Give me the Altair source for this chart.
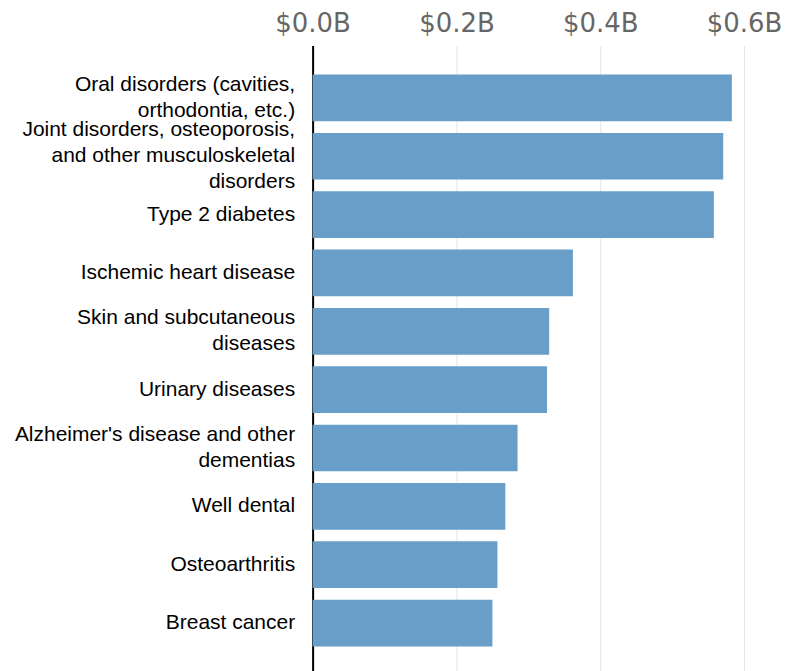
import altair as alt
import pandas as pd

categories = [
    "Oral disorders (cavities,|orthodontia, etc.)",
    "Joint disorders, osteoporosis,|and other musculoskeletal|disorders",
    "Type 2 diabetes",
    "Ischemic heart disease",
    "Skin and subcutaneous|diseases",
    "Urinary diseases",
    "Alzheimer's disease and other|dementias",
    "Well dental",
    "Osteoarthritis",
    "Breast cancer",
]
spending_billions = [0.583, 0.571, 0.558, 0.362, 0.329, 0.326, 0.285, 0.268, 0.257, 0.250]
tick_values = [0.0, 0.2, 0.4, 0.6]

LINE_H = 26

df = pd.DataFrame({"condition": categories, "spending": spending_billions})

label_offset = {
    "condition": [
        {"test": "length(split(datum.label, '|')) == 3", "value": -LINE_H},
        {"test": "length(split(datum.label, '|')) == 2", "value": -LINE_H / 2},
    ],
    "value": 0,
}

chart = (
    alt.Chart(df)
    .mark_bar(color="#689ec7")
    .encode(
        x=alt.X(
            "spending:Q",
            scale=alt.Scale(domain=[0, 0.6], nice=False),
            axis=alt.Axis(
                orient="top",
                values=tick_values,
                labelExpr="'$' + format(datum.value, '.1f') + 'B'",
                domain=False,
                ticks=False,
                grid=True,
                gridColor="#e4e4e4",
                gridWidth=1,
                labelFont="DejaVu Sans",
                labelFontSize=26,
                labelColor="#666666",
                labelPadding=9,
                labelFlush=False,
                title=None,
            ),
        ),
        y=alt.Y(
            "condition:N",
            sort=categories,
            scale=alt.Scale(paddingInner=0.2, paddingOuter=0.5),
            axis=alt.Axis(
                labelExpr="split(datum.label, '|')",
                domain=True,
                domainColor="#000000",
                domainWidth=2,
                ticks=False,
                grid=False,
                labelFont="Liberation Sans",
                labelFontSize=21,
                labelColor="#000000",
                labelLineHeight=LINE_H,
                labelOffset=label_offset,
                labelPadding=18,
                labelLimit=400,
                title=None,
            ),
        ),
    )
    .properties(
        width=432,
        height=631,
        autosize=alt.AutoSizeParams(type="none"),
        padding={"left": 305, "top": 37, "right": 50, "bottom": 0},
    )
    .configure_view(stroke=None)
)

chart.save("out.html", embed_options={"renderer": "svg", "actions": False})
